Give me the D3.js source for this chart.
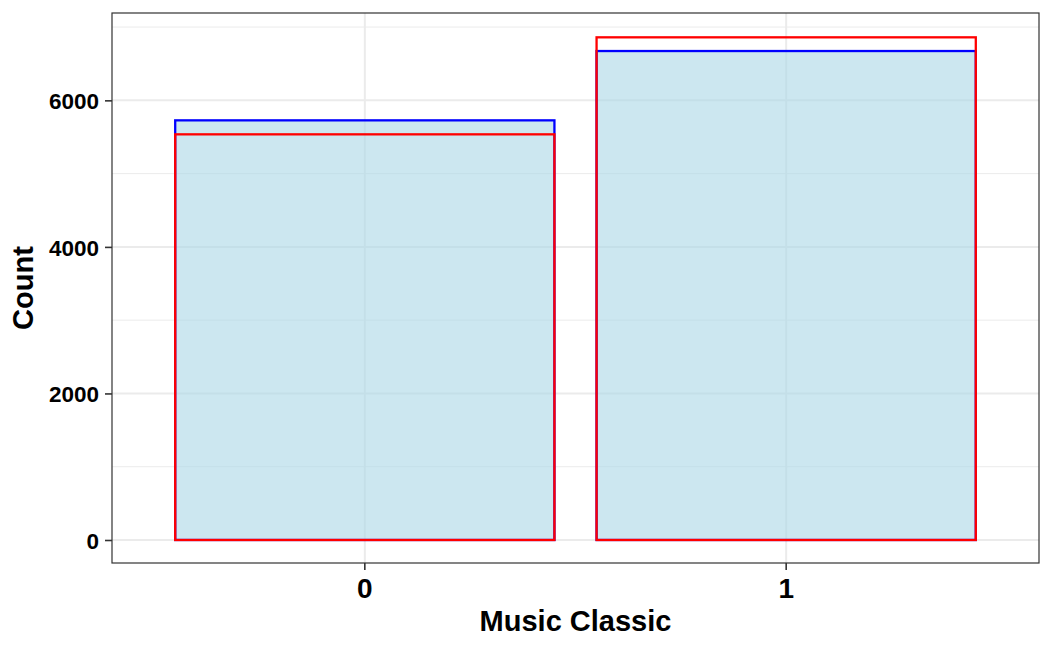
<!DOCTYPE html>
<html>
<head>
<meta charset="utf-8">
<script src="https://cdn.jsdelivr.net/npm/d3@7"></script>
<style>
html,body{margin:0;padding:0;background:#fff;}
svg{display:block;font-family:"Liberation Sans",Arial,Helvetica,sans-serif;}
</style>
</head>
<body>
<svg id="chart" width="1053" height="650"></svg>
<script>
// Data
const categories = ["0", "1"];
const blueCounts = [5727, 6673];
const redCounts = [5536, 6860];
const yTicks = [0, 2000, 4000, 6000];
const yMinorTicks = [1000, 3000, 5000, 7000];
const xLabel = "Music Classic";
const yLabel = "Count";

const W = 1053, H = 650;
const panel = {left: 112, right: 1039, top: 13, bottom: 563};

const svg = d3.select("#chart");

const x = d3.scaleBand()
  .domain(categories)
  .range([panel.left, panel.right])
  .paddingInner(0.1)
  .paddingOuter(0.15);

const y = d3.scaleLinear()
  .domain([-314, 7192])
  .range([panel.bottom, panel.top]);

// panel background
svg.append("rect")
  .attr("x", panel.left).attr("y", panel.top)
  .attr("width", panel.right - panel.left).attr("height", panel.bottom - panel.top)
  .attr("fill", "#fff");

// minor grid
svg.append("g").selectAll("line").data(yMinorTicks).join("line")
  .attr("x1", panel.left).attr("x2", panel.right)
  .attr("y1", d => y(d)).attr("y2", d => y(d))
  .attr("stroke", "#EBEBEB").attr("stroke-width", 1);

// major grid horizontal
svg.append("g").selectAll("line").data(yTicks).join("line")
  .attr("x1", panel.left).attr("x2", panel.right)
  .attr("y1", d => y(d)).attr("y2", d => y(d))
  .attr("stroke", "#EBEBEB").attr("stroke-width", 2);

// major grid vertical
svg.append("g").selectAll("line").data(categories).join("line")
  .attr("x1", d => x(d) + x.bandwidth() / 2).attr("x2", d => x(d) + x.bandwidth() / 2)
  .attr("y1", panel.top).attr("y2", panel.bottom)
  .attr("stroke", "#EBEBEB").attr("stroke-width", 2);

// blue bars (filled)
svg.append("g").selectAll("rect").data(categories).join("rect")
  .attr("x", d => x(d))
  .attr("width", x.bandwidth())
  .attr("y", (d, i) => y(blueCounts[i]))
  .attr("height", (d, i) => y(0) - y(blueCounts[i]))
  .attr("fill", "lightblue").attr("fill-opacity", 0.62)
  .attr("stroke", "#0000FF").attr("stroke-width", 2.3);

// red bars (outline)
svg.append("g").selectAll("rect").data(categories).join("rect")
  .attr("x", d => x(d))
  .attr("width", x.bandwidth())
  .attr("y", (d, i) => y(redCounts[i]))
  .attr("height", (d, i) => y(0) - y(redCounts[i]))
  .attr("fill", "none")
  .attr("stroke", "#FF0000").attr("stroke-width", 2.3);

// panel border
svg.append("rect")
  .attr("x", panel.left).attr("y", panel.top)
  .attr("width", panel.right - panel.left).attr("height", panel.bottom - panel.top)
  .attr("fill", "none").attr("stroke", "#333333").attr("stroke-width", 1.2);

// y axis
const yAxis = d3.axisLeft(y).tickValues(yTicks).tickSize(7).tickPadding(6).tickFormat(d3.format("d"));
const gy = svg.append("g").attr("transform", `translate(${panel.left},0)`).call(yAxis);
gy.select(".domain").remove();
gy.selectAll(".tick line").attr("stroke", "#333333").attr("stroke-width", 1.6);
gy.selectAll(".tick text")
  .attr("fill", "#000").attr("font-size", 22.5).attr("font-weight", "bold")
  .attr("dy", null).attr("y", 8.5);

// x axis
const xAxis = d3.axisBottom(x).tickSize(7).tickPadding(7);
const gx = svg.append("g").attr("transform", `translate(0,${panel.bottom})`).call(xAxis);
gx.select(".domain").remove();
gx.selectAll(".tick line").attr("stroke", "#333333").attr("stroke-width", 1.6);
gx.selectAll(".tick text")
  .attr("fill", "#000").attr("font-size", 28).attr("font-weight", "bold")
  .attr("dy", null).attr("y", 35);

// axis titles
svg.append("text")
  .attr("x", (panel.left + panel.right) / 2).attr("y", 631)
  .attr("text-anchor", "middle")
  .attr("font-size", 29).attr("font-weight", "bold").attr("fill", "#000")
  .text(xLabel);

svg.append("text")
  .attr("transform", `translate(33,${(panel.top + panel.bottom) / 2}) rotate(-90)`)
  .attr("text-anchor", "middle")
  .attr("font-size", 29).attr("font-weight", "bold").attr("fill", "#000")
  .text(yLabel);
</script>
</body>
</html>
